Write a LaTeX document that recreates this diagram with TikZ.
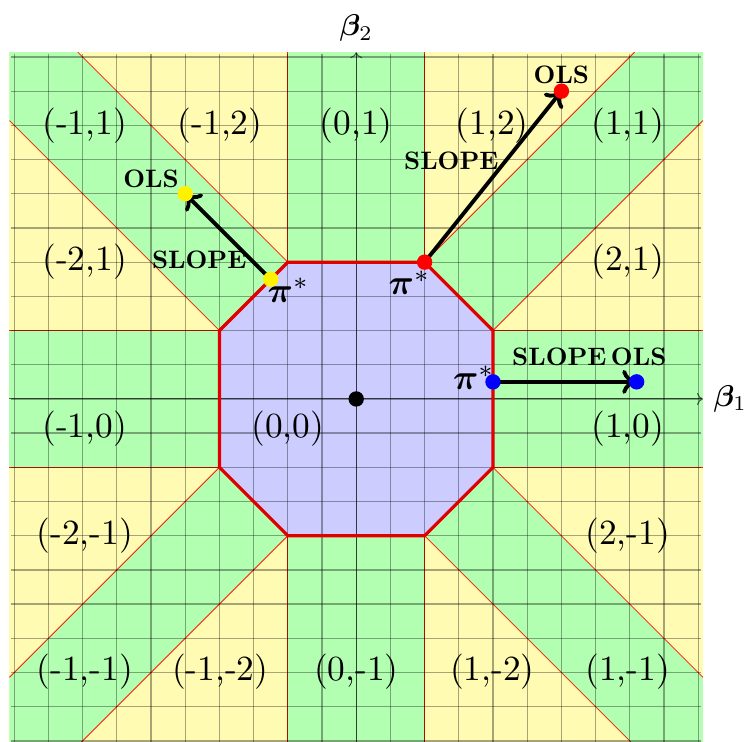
\documentclass[tikz,border=0pt]{standalone}
\usepackage{amsmath,bm}
\usetikzlibrary{arrows.meta}
\tikzset{
  yfill/.style={fill=yellow!30},
  gfill/.style={fill=green!30},
  bound/.style={draw=red!80!orange, line width=0.35pt},
  gridline/.style={draw=black, opacity=0.35, line width=0.55pt},
  axisline/.style={draw=black, opacity=0.6, line width=0.45pt, -{To[length=2.5pt,width=5pt]}},
  octborder/.style={draw=red!88!black, line width=1.35pt, line join=miter},
  arr/.style={draw=black, line width=1.6pt, -{To[length=6pt,width=10pt]}},
  dot/.style={circle, inner sep=0pt, minimum size=0.225cm},
  reglabel/.style={font=\normalsize, scale=1.47, inner sep=0pt},
  boldlabel/.style={font=\bfseries, scale=1.05, inner sep=0pt},
  pilabel/.style={scale=1.47, inner sep=0pt},
  betalabel/.style={scale=1.25},
}
\begin{document}
\begin{tikzpicture}[x=1cm,y=1cm]
\def\E{5.07}
\path[use as bounding box] (-5.208,-5.015) rectangle (5.699,5.833);
\clip (-5.208,-5.015) rectangle (5.699,5.833);
% base
\fill[yfill] (-\E,-\E) rectangle (\E,\E);
% green regions
\foreach \sx/\sy in {1/1,-1/1,1/-1,-1/-1}{
  \begin{scope}[xscale=\sx,yscale=\sy]
    \fill[gfill] (-1,2) rectangle (1,\E);
    \fill[gfill] (2,-1) rectangle (\E,1);
    \fill[gfill] (1,2) -- (2,1) -- (\E,\E-1) -- (\E,\E) -- (\E-1,\E) -- cycle;
  \end{scope}
}
% octagon fill
\fill[blue!20] (2,1) -- (1,2) -- (-1,2) -- (-2,1) -- (-2,-1) -- (-1,-2) -- (1,-2) -- (2,-1) -- cycle;
% region boundaries
\foreach \sx/\sy in {1/1,-1/1,1/-1,-1/-1}{
  \begin{scope}[xscale=\sx,yscale=\sy]
    \draw[bound] (1,2) -- (1,\E);
    \draw[bound] (2,1) -- (\E,1);
    \draw[bound] (1,2) -- (\E-1,\E);
    \draw[bound] (2,1) -- (\E,\E-1);
  \end{scope}
}
% grid (every half unit)
\foreach \k in {-10,...,10}{
  \draw[gridline] (\k/2,-5.04) -- (\k/2,5.04);
  \draw[gridline] (-5.04,\k/2) -- (5.04,\k/2);
}
% axes
\coordinate (xs) at (-\E,0);
\coordinate (xe) at (\E,0);
\coordinate (ys) at (0,-\E);
\coordinate (ye) at (0,\E);
\draw[axisline] (xs) -- (xe);
\draw[axisline] (ys) -- (ye);
\node[betalabel, anchor=west] (b1) at (xe) {$\boldsymbol{\beta}_1$};
\node[betalabel, anchor=south] (b2) at (ye) {$\boldsymbol{\beta}_2$};
% octagon border
\draw[octborder] (2,1) -- (1,2) -- (-1,2) -- (-2,1) -- (-2,-1) -- (-1,-2) -- (1,-2) -- (2,-1) -- cycle;
% region labels
\node[reglabel] (l1) at (-3.97,3.99) {(-1,1)};
\node[reglabel] (l2) at (-1.99,3.99) {(-1,2)};
\node[reglabel] (l3) at (0,3.99) {(0,1)};
\node[reglabel] (l4) at (1.99,3.99) {(1,2)};
\node[reglabel] (l5) at (3.97,3.99) {(1,1)};
\node[reglabel] (l6) at (-3.97,2.0) {(-2,1)};
\node[reglabel] (l7) at (3.97,2.0) {(2,1)};
\node[reglabel] (l8) at (-3.97,-0.44) {(-1,0)};
\node[reglabel] (l9) at (-1.0,-0.44) {(0,0)};
\node[reglabel] (l10) at (3.97,-0.44) {(1,0)};
\node[reglabel] (l11) at (-3.97,-2.0) {(-2,-1)};
\node[reglabel] (l12) at (3.97,-2.0) {(2,-1)};
\node[reglabel] (l13) at (-3.97,-3.99) {(-1,-1)};
\node[reglabel] (l14) at (-1.99,-3.99) {(-1,-2)};
\node[reglabel] (l15) at (0,-3.99) {(0,-1)};
\node[reglabel] (l16) at (1.99,-3.99) {(1,-2)};
\node[reglabel] (l17) at (3.97,-3.99) {(1,-1)};
% points
\coordinate (rp) at (1,2);
\coordinate (ro) at (3,4.5);
\coordinate (yp) at (-1.25,1.75);
\coordinate (yo) at (-2.5,3);
\coordinate (bp) at (2,0.25);
\coordinate (bo) at (4.1,0.25);
\coordinate (org) at (0,0);
% arrows
\draw[arr] (rp) -- (ro);
\draw[arr] (yp) -- (yo);
\draw[arr] (bp) -- (bo);
% text labels
\node[boldlabel] (rs) at (1.39,3.48) {SLOPE};
\node[boldlabel] (rol) at (3.0,4.74) {OLS};
\node[boldlabel] (ys1) at (-2.295,2.04) {SLOPE};
\node[boldlabel] (yol) at (-3.0,3.22) {OLS};
\node[boldlabel] (bs) at (2.97,0.61) {SLOPE};
\node[boldlabel] (bol) at (4.13,0.62) {OLS};
\node[pilabel] (rpl) at (0.78,1.70) {$\boldsymbol{\pi}^*$};
\node[pilabel] (ypl) at (-0.99,1.59) {$\boldsymbol{\pi}^*$};
\node[pilabel] (bpl) at (1.72,0.31) {$\boldsymbol{\pi}^*$};
% dots
\node[dot, fill=black] (d0) at (org) {};
\node[dot, fill=red] (d1) at (rp) {};
\node[dot, fill=red] (d2) at (ro) {};
\node[dot, fill=yellow] (d3) at (yp) {};
\node[dot, fill=yellow] (d4) at (yo) {};
\node[dot, fill=blue] (d5) at (bp) {};
\node[dot, fill=blue] (d6) at (bo) {};
\end{tikzpicture}
\end{document}
